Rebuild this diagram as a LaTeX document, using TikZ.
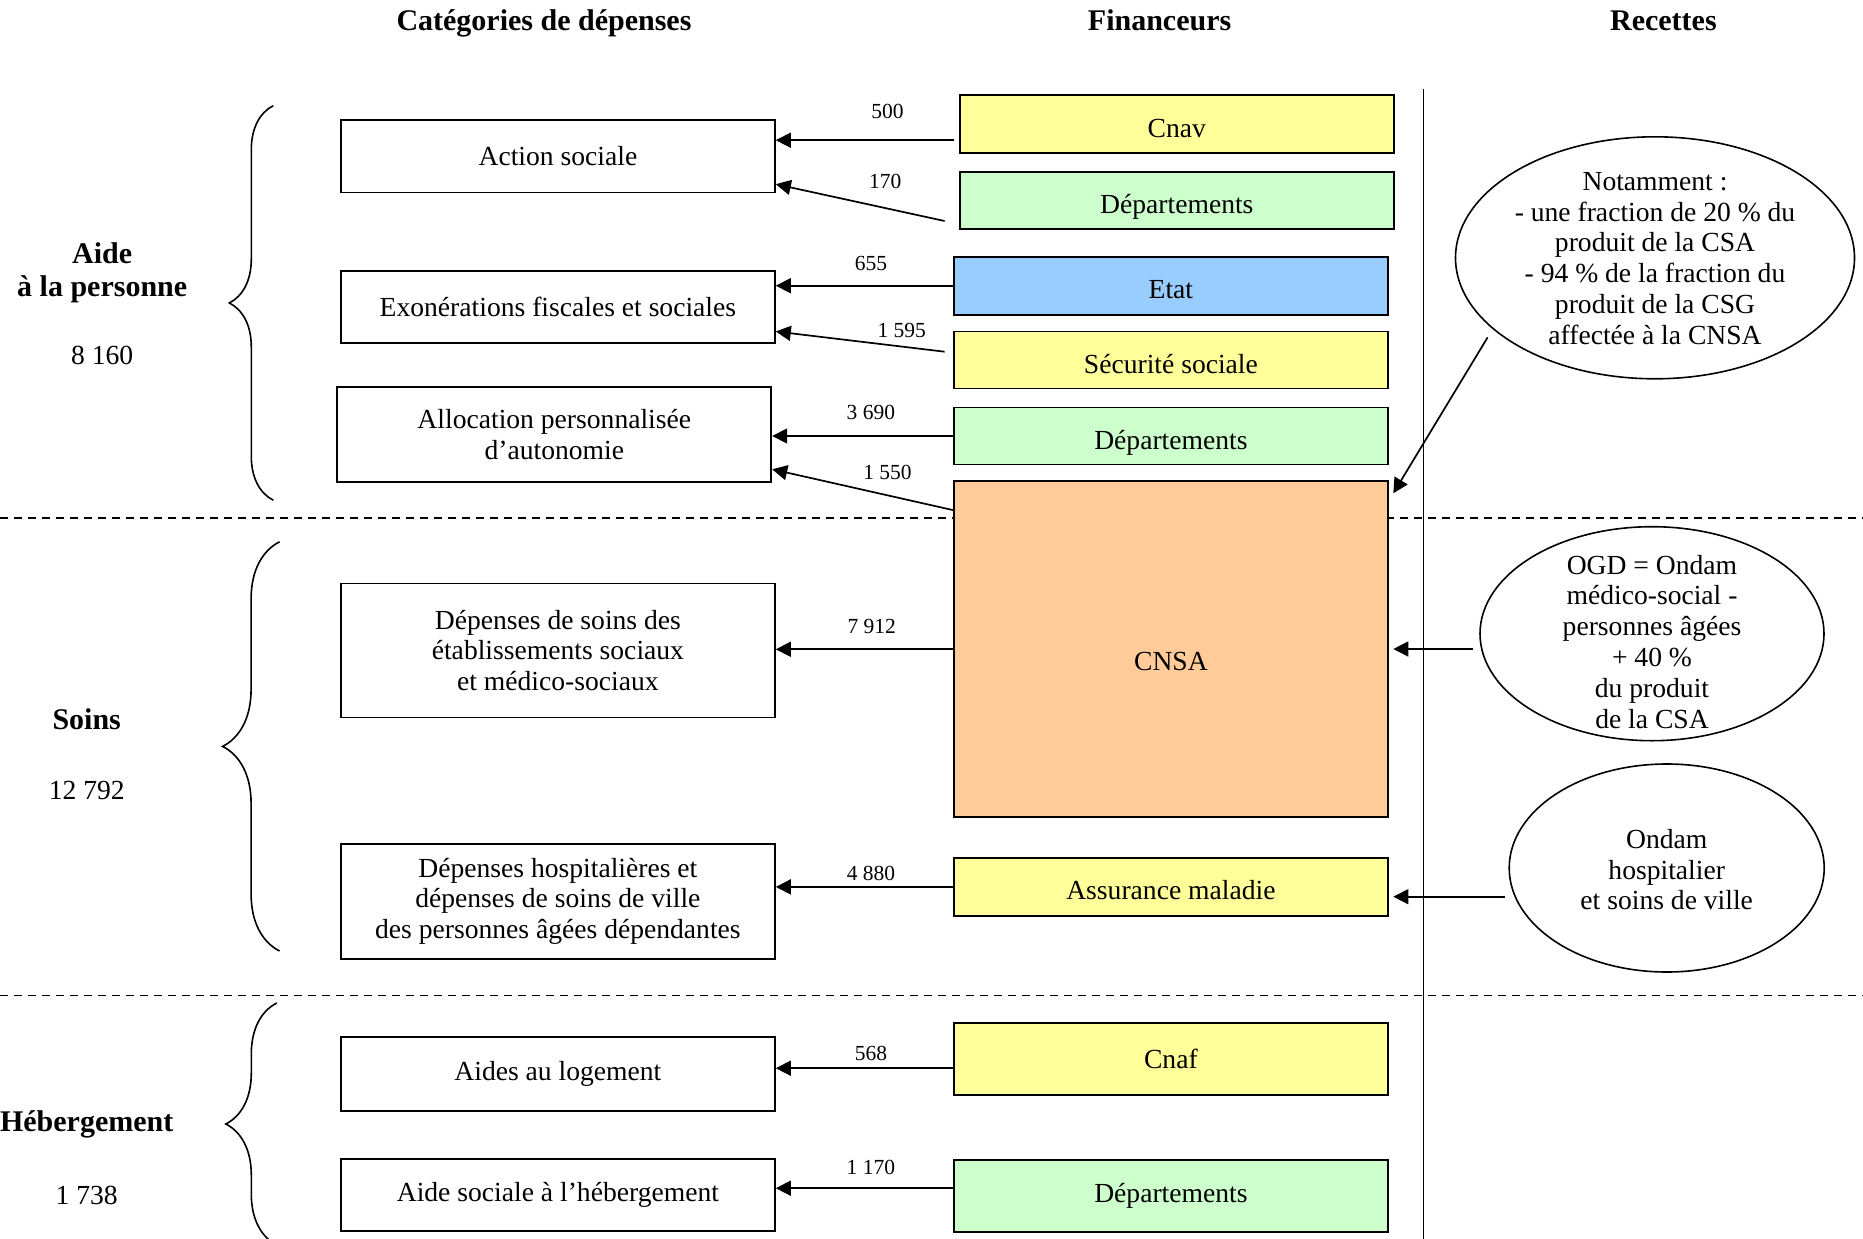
\documentclass[tikz,border=0pt]{standalone}
\usepackage{fontspec}
\setmainfont{Liberation Serif}
\usetikzlibrary{arrows.meta, shapes.geometric, decorations.pathreplacing}

\definecolor{finyellow}{HTML}{FFFF99}
\definecolor{fingreen}{HTML}{CCFFCC}
\definecolor{finblue}{HTML}{99CCFF}
\definecolor{finorange}{HTML}{FFCC99}

\newcommand{\boxfont}{\fontsize{27.6}{30.8}\selectfont}
\newcommand{\headfont}{\fontsize{30}{33}\selectfont\bfseries}
\newcommand{\sumfont}{\fontsize{21.5}{24}\selectfont}

\begin{document}
\begin{tikzpicture}[x = 1pt, y = -1pt,
        catbox/.style = {draw, line width = 1.8pt, minimum width = 434pt, inner sep = 0pt, align = center, font = \boxfont},
        finbox/.style = {catbox, minimum height = 58pt},
        lowtext/.style = {text height = 26pt, text depth = 0pt},
        flow/.style = {line width = 1.7pt, -{Triangle[length = 15pt, width = 15pt]}},
        amount/.style = {inner sep = 0pt, font = \sumfont},
        recette/.style = {draw, ellipse, line width = 1.6pt, inner sep = 0pt},
        split/.style = {line width = 1.5pt, dash pattern = on 8pt off 6pt},
        curly/.style = {decorate, decoration = {brace, amplitude = #1}, line width = 1.6pt}]
        \useasboundingbox (0,0) rectangle (1863,1239);

        \node [font = \headfont, anchor = base] (tcat) at (544,30.2) {Catégories de dépenses};
        \node [font = \headfont, anchor = base] (tfin) at (1159.6,30.2) {Financeurs};
        \node [font = \headfont, anchor = base] (trec) at (1663.4,30.2) {Recettes};

        \draw [split] (0,518) -- (1863,518);
        \draw [split] (0,995.7) -- (1863,995.7);
        \draw [line width = 1.6pt] (1423.4,89) -- (1423.4,1239);

        \draw [curly = 44pt] (273.3,500.2) -- (273.3,105.7);
        \draw [curly = 57pt] (279.6,951) -- (279.6,541.8);
        \draw [curly = 51pt] (276.8,1245) -- (276.8,1003);

        \node [font = \headfont, align = center] (aide) at (102.2,273) {Aide\\à la personne};
        \node [font = \boxfont] (naide) at (102.2,355.2) {8 160};
        \node [font = \headfont] (soins) at (86.7,718.8) {Soins};
        \node [font = \boxfont] (nsoins) at (86.7,790.1) {12 792};
        \node [font = \headfont] (heberg) at (86.7,1124) {Hébergement};
        \node [font = \boxfont] (nheberg) at (86.7,1195.3) {1 738};

        \node [catbox, minimum height = 72.5pt] (action) at (557.9,156.2) {Action sociale};
        \node [catbox, minimum height = 72.5pt] (exo) at (557.9,307.1) {Exonérations fiscales et sociales};
        \node [catbox, minimum height = 95pt] (apa) at (554.3,434.5) {Allocation personnalisée\\d’autonomie};
        \node [catbox, minimum height = 134pt] (etab) at (557.9,650.5) {Dépenses de soins des\\établissements sociaux\\et médico-sociaux};
        \node [catbox, minimum height = 115pt] (hosp) at (557.9,901.2) {Dépenses hospitalières et\\dépenses de soins de ville\\des personnes âgées dépendantes};
        \node [catbox, minimum height = 73.5pt] (logement) at (557.9,1074) {Aides au logement};
        \node [catbox, minimum height = 72pt] (ash) at (557.9,1195.3) {Aide sociale à l’hébergement};

        \node [finbox, lowtext, fill = finyellow] (cnav) at (1176.8,124.2) {Cnav};
        \node [finbox, lowtext, fill = fingreen, minimum height = 57pt] (depa) at (1176.8,200.8) {Départements};
        \node [finbox, lowtext, fill = finblue] (etat) at (1170.9,285.7) {Etat};
        \node [finbox, lowtext, fill = finyellow, minimum height = 57pt] (secu) at (1170.9,360) {Sécurité sociale};
        \node [finbox, lowtext, fill = fingreen, minimum height = 57pt] (depb) at (1170.9,436) {Départements};
        \node [finbox, fill = finorange, minimum height = 336pt] (cnsa) at (1170.9,649.3) {};
        \node [font = \boxfont] (cnsatxt) at (1170.9,661.8) {CNSA};
        \node [finbox, lowtext, fill = finyellow] (am) at (1170.9,886.9) {Assurance maladie};
        \node [finbox, fill = finyellow, minimum height = 72pt] (cnaf) at (1170.9,1059.2) {Cnaf};
        \node [finbox, fill = fingreen, minimum height = 72pt] (depc) at (1170.9,1196) {Départements};

        \node [recette, minimum width = 399pt, minimum height = 242pt] (csa) at (1655,257.8) {};
        \node [font = \boxfont, align = center] (csatxt) at (1655,258.4) {Notamment~:\\- une fraction de 20~\% du\\produit de la CSA\\- 94~\% de la fraction du\\produit de la CSG\\affectée à la CNSA};
        \node [recette, minimum width = 344pt, minimum height = 214pt] (ogd) at (1652,633.7) {};
        \node [font = \boxfont, align = center] (ogdtxt) at (1652,641.6) {OGD = Ondam\\médico-social -\\personnes âgées\\+ 40~\%\\du produit\\de la CSA};
        \node [recette, minimum width = 315pt, minimum height = 208pt] (hop) at (1666.7,868) {};
        \node [font = \boxfont, align = center] (hoptxt) at (1666.7,869.7) {Ondam\\hospitalier\\et soins de ville};

        \coordinate (s500) at (954,140.2);
        \coordinate (s170) at (944.6,221);
        \coordinate (s1595) at (944.6,351.7);
        \coordinate (s1550) at ([yshift = -29.7pt]cnsa.north west);
        \coordinate (s568) at (954,1068.2);
        \coordinate (s1170) at (954,1188.2);
        \coordinate (scsa) at (1487.6,337.4);
        \coordinate (tcsa) at (1393.3,493.3);
        \coordinate (sogd) at (1473,649);
        \coordinate (togd) at (1393.3,649);
        \coordinate (shop) at (1505,896.7);
        \coordinate (thop) at (1393.3,896.7);

        \draw [flow] (s500) -- (s500 -| action.east);
        \draw [flow] (s170) -- ([yshift = -28pt]action.east);
        \draw [flow] (etat.west) -- (etat.west -| exo.east);
        \draw [flow] (s1595) -- ([yshift = -24.4pt]exo.east);
        \draw [flow] (depb.west) -- (depb.west -| apa.east);
        \draw [flow] (s1550) -- ([yshift = -34.8pt]apa.east);
        \draw [flow] (cnsa.west) -- (cnsa.west -| etab.east);
        \draw [flow] (am.west) -- (am.west -| hosp.east);
        \draw [flow] (s568) -- (s568 -| logement.east);
        \draw [flow] (s1170) -- (s1170 -| ash.east);

        \draw [flow] (scsa) -- (tcsa);
        \draw [flow] (sogd) -- (togd);
        \draw [flow] (shop) -- (thop);

        \node [amount] (m500) at (887.5,111.7) {500};
        \node [amount] (m170) at (885.2,181.8) {170};
        \node [amount] (m655) at (870.9,263.8) {655};
        \node [amount] (m1595) at (901.8,330.3) {1 595};
        \node [amount] (m3690) at (870.9,412.3) {3 690};
        \node [amount] (m1550) at (887.5,472.9) {1 550};
        \node [amount] (m7912) at (871.7,626) {7 912};
        \node [amount] (m4880) at (871,873) {4 880};
        \node [amount] (m568) at (870.9,1053.9) {568};
        \node [amount] (m1170) at (870.9,1167.9) {1 170};
    \end{tikzpicture}
\end{document}
